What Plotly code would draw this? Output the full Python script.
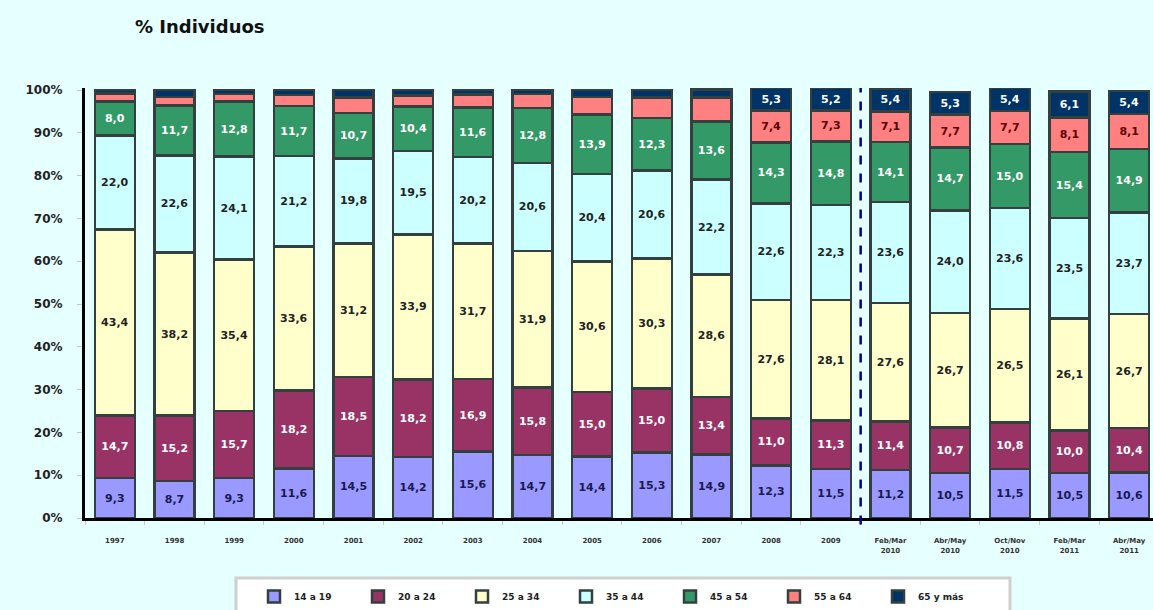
import plotly.graph_objects as go

# categories (x axis)
periods = [
    "1997", "1998", "1999", "2000", "2001", "2002", "2003", "2004", "2005",
    "2006", "2007", "2008", "2009",
    "Feb/Mar<br>2010", "Abr/May<br>2010", "Oct/Nov<br>2010",
    "Feb/Mar<br>2011", "Abr/May<br>2011",
]

# % individuos by age band
age_14_19 = [9.3, 8.7, 9.3, 11.6, 14.5, 14.2, 15.6, 14.7, 14.4, 15.3, 14.9, 12.3, 11.5, 11.2, 10.5, 11.5, 10.5, 10.6]
age_20_24 = [14.7, 15.2, 15.7, 18.2, 18.5, 18.2, 16.9, 15.8, 15.0, 15.0, 13.4, 11.0, 11.3, 11.4, 10.7, 10.8, 10.0, 10.4]
age_25_34 = [43.4, 38.2, 35.4, 33.6, 31.2, 33.9, 31.7, 31.9, 30.6, 30.3, 28.6, 27.6, 28.1, 27.6, 26.7, 26.5, 26.1, 26.7]
age_35_44 = [22.0, 22.6, 24.1, 21.2, 19.8, 19.5, 20.2, 20.6, 20.4, 20.6, 22.2, 22.6, 22.3, 23.6, 24.0, 23.6, 23.5, 23.7]
age_45_54 = [8.0, 11.7, 12.8, 11.7, 10.7, 10.4, 11.6, 12.8, 13.9, 12.3, 13.6, 14.3, 14.8, 14.1, 14.7, 15.0, 15.4, 14.9]
age_55_64 = [1.8, 2.0, 1.8, 2.6, 3.6, 2.6, 3.0, 3.3, 4.1, 4.8, 5.6, 7.4, 7.3, 7.1, 7.7, 7.7, 8.1, 8.1]
age_65_mas = [0.8, 1.6, 0.9, 1.1, 1.7, 1.2, 1.0, 0.9, 1.6, 1.7, 1.8, 5.3, 5.2, 5.4, 5.3, 5.4, 6.1, 5.4]

# the source only labels the two oldest bands from 2008 on
first_labelled_old = 11

series = [
    ("14 a 19", age_14_19, "#9999FF", "#1a1a50", True),
    ("20 a 24", age_20_24, "#993366", "white", True),
    ("25 a 34", age_25_34, "#FFFFCC", "#222222", True),
    ("35 a 44", age_35_44, "#CCFFFF", "#222222", True),
    ("45 a 54", age_45_54, "#339966", "white", True),
    ("55 a 64", age_55_64, "#FF8080", "#5a0000", False),
    ("65 y más", age_65_mas, "#003366", "white", False),
]

BOLD_FONT = "DejaVu Sans, Arial, sans-serif"


def fmt(v):
    return f"{v:.1f}".replace(".", ",")


fig = go.Figure()

for name, values, color, txtcolor, always_label in series:
    labels = [
        fmt(v) if (always_label or i >= first_labelled_old) else ""
        for i, v in enumerate(values)
    ]
    fig.add_trace(
        go.Bar(
            x=periods,
            y=values,
            name=name,
            text=labels,
            textposition="inside",
            insidetextanchor="middle",
            textangle=0,
            textfont=dict(color=txtcolor, size=11, family=BOLD_FONT, weight="bold"),
            marker=dict(color=color, line=dict(color="#33403f", width=2.5)),
            hovertemplate="%{x}<br>" + name + ": %{y}%<extra></extra>",
        )
    )

# dashed separator between yearly data and the 2010/2011 waves
fig.add_shape(
    type="line",
    xref="x", yref="paper",
    x0=12.5, x1=12.5, y0=-0.015, y1=1.0,
    line=dict(color="#000080", width=2.5, dash="dash"),
)

# white legend box (drawn behind a transparent legend)
fig.add_shape(
    type="rect",
    xref="paper", yref="paper",
    x0=(236 - 85) / 1068, x1=(1010 - 85) / 1068,
    y0=-(612 - 518) / 430, y1=-(578 - 518) / 430,
    fillcolor="white",
    line=dict(color="#cfcfcf", width=3),
    layer="below",
)

fig.add_annotation(
    text="<b>% Individuos</b>",
    xref="paper", yref="paper",
    x=0.045, y=1.0, xanchor="left", yanchor="bottom",
    yshift=49,
    showarrow=False,
    font=dict(size=18, color="#111111", family=BOLD_FONT),
)

fig.update_xaxes(
    range=[-0.5, 17.4],
    showline=True, linecolor="black", linewidth=3,
    ticks="outside", ticklen=4, tickcolor="#c8c8c8", tickson="boundaries",
    ticklabelstandoff=14,
    tickfont=dict(size=7, color="#333333", family=BOLD_FONT, weight="bold"),
    showgrid=False,
)
fig.update_yaxes(
    range=[0, 100.5],
    tickvals=list(range(0, 101, 10)),
    ticktext=[f"{v}%" for v in range(0, 101, 10)],
    showline=True, linecolor="black", linewidth=3,
    ticks="outside", ticklen=5, tickcolor="#c8c8c8",
    ticklabelstandoff=12,
    tickfont=dict(size=12, color="#222222", family=BOLD_FONT, weight="bold"),
    showgrid=False,
    zeroline=False,
)

fig.update_layout(
    barmode="stack",
    bargap=0.33,
    width=1153,
    height=610,
    paper_bgcolor="#E6FFFF",
    plot_bgcolor="#E6FFFF",
    font=dict(family="Arial, Liberation Sans, sans-serif"),
    uniformtext=dict(minsize=8, mode="show"),
    margin=dict(l=85, r=0, t=88, b=92, autoexpand=False),
    showlegend=True,
    legend=dict(
        orientation="h",
        xanchor="left", x=(254 - 85) / 1068,
        yanchor="top", y=-(582 - 518) / 430,
        bgcolor="rgba(0,0,0,0)",
        borderwidth=0,
        itemwidth=30,
        entrywidth=59,
        entrywidthmode="pixels",
        font=dict(size=9, color="#222222", family=BOLD_FONT, weight="bold"),
        traceorder="normal",
        itemclick=False,
    ),
)

fig.write_html(
    "out.html",
    config={"displayModeBar": False},
    post_script="document.body.style.margin='0';document.body.style.overflow='hidden';",
)
